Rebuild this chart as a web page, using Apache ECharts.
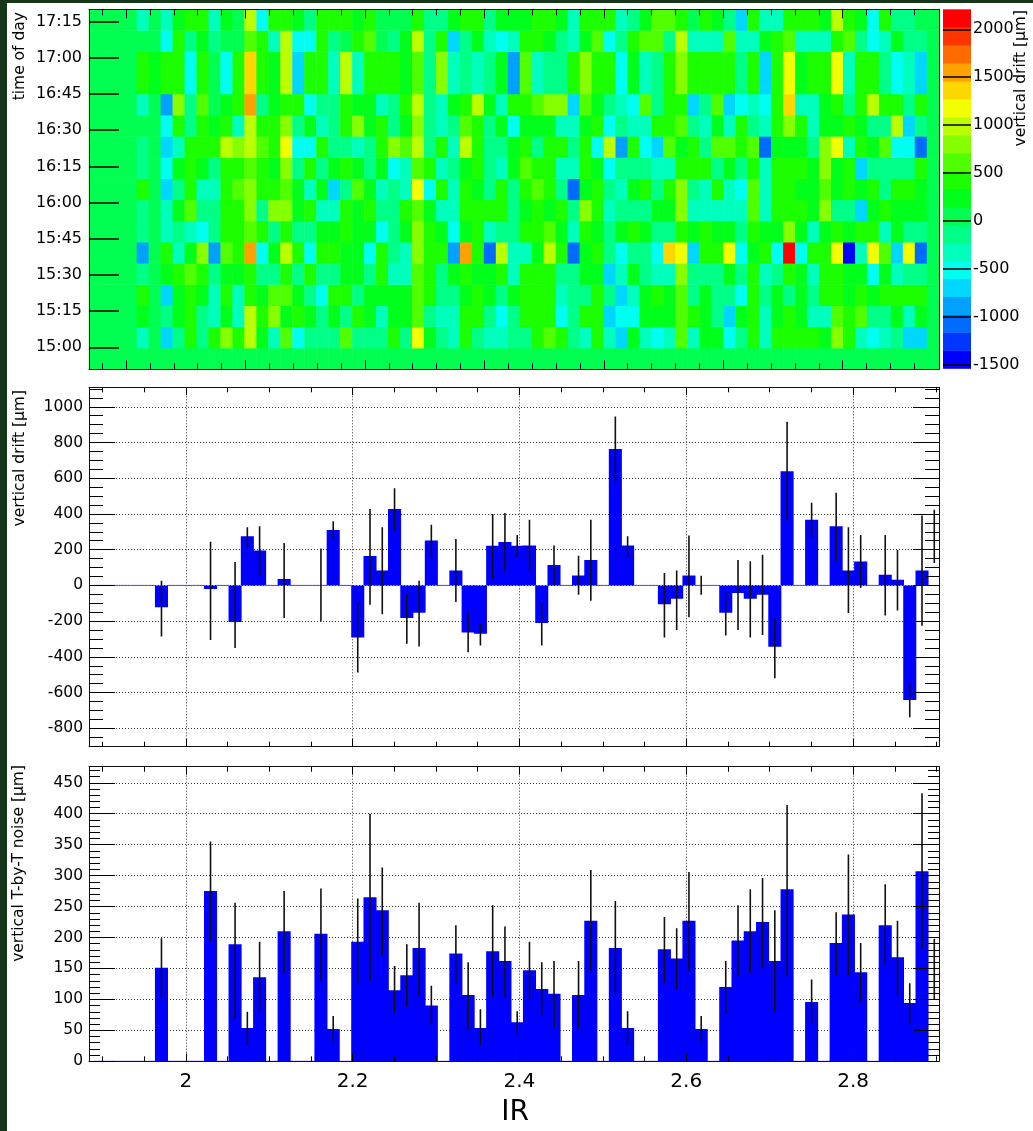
<!DOCTYPE html>
<html>
<head>
<meta charset="utf-8">
<title>vertical drift vs IR</title>
<script src="https://cdn.jsdelivr.net/npm/echarts@6/dist/echarts.min.js"></script>
<style>
  html, body { margin: 0; padding: 0; background: #fff; }
  #chart { width: 1033px; height: 1131px; }
</style>
</head>
<body>
<div id="chart"></div>
<script>
// ---- heatmap: vertical drift [um] per time row (top row first) and BPM column ----
const MAP_COLS = 71   // columns on the x axis of the map
const MAP_ROWS = 17   // time rows, the lowest one is empty
const MAP_COL0 = 4    // first filled column
const driftMap = [
  [-320,50,-320,240,430,430,-320,240,50,990,-500,430,430,240,-130,430,430,430,240,430,50,50, 50,430,-130,-130,240,430,430,-130,240,240,240,430,430,240,-320,430,430,430,-320,-130,240,620, 620,430,50,430,240,-130,-690,430,-320,-320,430,430,430,240,990,430,240,-500,430,-130,-130,50],
  [50,50,-500,430,-130,240,-130,50,50,620,430,-320,990,-500,-500,430,-130,50,430,620,50,-130, 240,990,-130,430,-690,-130,240,-320,-500,-320,430,430,240,-130,-320,240,620,-500,-130,430,620,620, -130,990,-320,-320,-320,620,-320,-320,240,430,620,-320,-320,-320,430,620,-130,-500,-320,240,-130,-130],
  [430,240,430,430,-500,430,50,-500,430,1370,430,240,990,-690,430,430,-320,990,-320,430,430,430, 240,620,-130,810,-320,-130,-320,-130,240,-880,620,-320,-130,-130,430,810,430,430,-500,240,-320,-130, 430,810,430,430,430,430,-130,430,-690,430,1180,240,430,430,1180,-320,430,430,-130,-500,-320,-690],
  [430,240,430,430,-500,430,50,-500,430,1370,430,240,990,-690,430,430,-320,990,-320,430,430,430, 240,620,-130,810,-320,-130,-320,-130,240,-880,620,-320,-130,-130,430,810,430,430,-500,240,-320,-130, 430,810,430,430,430,430,-130,430,-690,430,1180,240,430,430,1180,-320,430,430,-130,-500,-320,-690],
  [-320,50,-880,810,-130,620,50,240,430,1560,-130,240,430,430,-500,-130,-130,430,240,240,-320,-130, 430,990,-130,-320,240,430,990,240,-320,430,430,620,810,810,-690,620,240,-130,-320,-500,620,-130, 430,430,-690,-130,620,-690,-500,-320,-500,430,1370,-320,-320,240,430,-130,430,990,430,430,-130,430],
  [50,50,-500,430,-130,430,240,430,-320,990,430,430,810,-130,240,-320,-130,430,810,240,430,-130, 240,810,-130,-320,-130,620,430,-130,240,-500,240,240,240,-320,-320,240,430,-500,-130,-320,-320,430, 430,620,-130,-320,240,-320,430,-130,-320,430,810,430,-320,240,240,430,240,-130,-130,990,-690,-130],
  [-130,50,-690,-320,430,430,430,990,810,990,620,430,1180,-500,-500,430,-130,-130,-320,-130,430,810, 620,990,-130,430,-320,990,430,-130,-130,240,430,-130,430,430,-130,430,-500,990,-880,430,-500,-690, 620,240,430,-130,620,620,430,620,-1070,240,240,240,-130,810,1180,-320,430,240,620,-500,-500,-1070],
  [-130,50,-500,240,430,240,-130,430,430,620,430,240,810,-130,430,-130,240,430,240,-130,240,-500, -320,620,430,-320,-130,240,430,-130,-320,240,620,430,430,-320,-320,430,240,-500,-130,-130,-130,-320, -320,430,430,430,-130,240,-130,430,-320,430,430,430,240,810,240,430,-690,-130,-130,-130,-130,430],
  [430,50,-690,-130,430,-320,-320,430,620,810,430,430,620,240,-320,240,-690,-130,620,240,-320,-130, -320,1180,-500,430,-320,430,240,-130,430,-130,430,620,430,-130,-1070,240,430,-130,-320,240,430,-130, 430,810,-130,-320,430,-320,-500,620,-320,430,430,240,240,620,240,430,240,430,-130,430,430,240],
  [-130,50,-320,240,620,-130,-130,430,430,810,-130,810,810,240,430,-320,-320,430,240,430,-130,-130, 430,620,240,-320,-320,430,430,430,430,-130,240,430,240,430,-130,810,430,-320,-130,-130,-130,240, 240,810,-320,-320,-320,-320,-320,620,-320,430,430,430,240,810,-130,-130,-690,240,430,240,240,240],
  [-130,50,-320,-130,-320,-500,-130,430,430,620,430,-130,430,-130,-130,240,240,430,240,240,-500,-130, 240,810,430,240,-500,240,430,-320,-130,-130,430,430,620,240,-320,430,240,-130,240,430,240,-130, -130,430,240,430,240,240,-130,430,240,240,810,240,-320,240,430,240,430,430,-320,240,-130,-130],
  [-880,50,430,-320,240,810,-880,620,430,1560,-500,240,990,430,-500,430,430,240,240,-500,430,-130, -320,810,430,430,-880,1560,430,-1070,990,-320,-320,240,990,430,-1070,240,430,-130,-500,-130,-130,-500, 1370,1180,-690,430,430,1180,-500,240,430,-500,2200,-500,430,430,1180,-1530,-320,1180,620,-690,1180,-1070],
  [-130,50,240,430,620,430,-130,240,240,430,-130,-130,430,-130,430,-130,-130,240,240,-130,430,-320, -320,620,430,-130,240,430,240,240,430,-320,430,430,430,-130,-130,240,240,-690,-320,240,-130,-320, -320,810,-130,-130,-130,240,-130,430,-320,-130,430,240,-320,430,430,240,240,-500,240,-320,-130,-130],
  [430,50,-690,240,430,240,-320,430,-320,430,240,620,620,240,-130,-500,430,430,-130,240,240,240, 240,620,430,-130,-130,240,430,240,-130,240,430,430,430,-320,-130,-130,430,-130,-690,-320,240,430, 240,620,-130,240,-130,-130,-500,430,-130,240,-130,240,-130,430,430,240,430,240,430,430,430,430],
  [240,50,-130,240,430,-130,-320,240,-320,990,430,810,240,430,240,-130,240,-130,430,240,-320,240, 240,620,-130,-320,-320,430,430,-130,-500,-130,430,430,430,-500,-130,430,430,-690,-500,-500,240,240, 240,620,430,240,-130,-690,240,430,-320,240,430,240,-320,-320,620,430,620,-130,-130,240,-320,240],
  [-320,50,-690,-130,430,-130,430,810,430,990,240,-320,620,-500,-130,-130,-130,620,-130,-130,-130,430, -130,1180,240,-130,-320,430,-130,-320,-320,-130,-130,430,620,430,-130,-320,430,-320,-690,240,-320,-500, -320,620,-320,240,240,-500,-130,430,-320,430,430,430,430,240,810,430,-320,-500,-320,-130,-690,-690]
]
const timeLabels = ['15:00', '15:15', '15:30', '15:45', '16:00', '16:15', '16:30', '16:45', '17:00', '17:15']

// colour scale: 20 contour levels
const Z_MIN = -1534, Z_MAX = 2208, N_LEVELS = 20
const palette = ['#0000ff', '#0035ff', '#006bff', '#00a1ff', '#00d7ff', '#00fff1', '#00ffbc', '#00ff86', '#00ff50', '#00ff1b',
  '#1bff00', '#50ff00', '#86ff00', '#bcff00', '#f1ff00', '#ffd700', '#ffa100', '#ff6b00', '#ff3500', '#ff0000']
const cbLabels = [-1500, -1000, -500, 0, 500, 1000, 1500, 2000]

// ---- histograms in IR: 69 bins of width 1/68 starting at 1.89 ----
const IR_LO = 1.89, IR_BIN = 1 / 68
const irLabels = [2, 2.2, 2.4, 2.6, 2.8]
const driftVal = [0, 0, 0, 0, 0, -123, 0, 0, 0, -20,
  0, -205, 275, 195, 0, 36, 0, 0, 0, 310,
  0, -291, 165, 84, 428, -183, -153, 252, 0, 84,
  -263, -271, 222, 243, 222, 224, -211, 114, 0, 56,
  142, 0, 764, 224, 0, 0, -105, -75, 56, 0,
  0, -153, -43, -75, -52, -344, 639, 0, 368, 0,
  331, 84, 134, 0, 60, 32, -641, 84, null]
// [bin, low end, high end]
const driftErr = [[5, -286, 26], [9, -305, 245], [11, -351, 131], [12, 209, 325], [13, 50, 331], [15, -183, 237],
  [18, -202, 206], [19, 256, 359], [21, -488, -95], [22, -108, 428], [23, -161, 325], [24, 307, 544],
  [25, -327, -47], [26, -342, 26], [27, 153, 340], [29, -93, 260], [30, -374, -155], [31, -336, -216],
  [32, 36, 400], [33, 79, 405], [34, 153, 282], [35, 73, 368], [36, -336, -99], [37, 0, 224],
  [39, -52, 166], [40, -86, 368], [42, 576, 946], [43, 159, 275], [46, -292, 69], [47, -249, 84],
  [48, -178, 280], [49, -52, 54], [51, -280, -39], [52, -249, 142], [53, -292, 135], [54, -278, 172],
  [55, -520, -185], [56, 364, 916], [58, 269, 463], [60, 138, 519], [61, -155, 325], [62, -15, 282],
  [64, -168, 282], [65, -140, 198], [66, -738, -552], [67, -226, 391], [68, 125, 424]]
const noiseVal = [0, 0, 0, 0, 0, 151, 0, 0, 0, 275,
  0, 189, 54, 136, 0, 210, 0, 0, 206, 52,
  0, 193, 265, 244, 115, 139, 183, 90, 0, 174,
  107, 54, 178, 162, 63, 147, 117, 109, 0, 107,
  227, 0, 183, 54, 0, 0, 181, 166, 227, 52,
  0, 120, 195, 210, 225, 162, 278, 0, 96, 0,
  191, 237, 144, 0, 220, 168, 94, 307, null]
const noiseErr = [[5, 101, 199], [9, 194, 355], [11, 69, 256], [12, 26, 80], [13, 80, 193], [15, 141, 275],
  [18, 130, 279], [19, 30, 73], [21, 124, 263], [22, 130, 400], [23, 170, 313], [24, 78, 154],
  [25, 88, 189], [26, 106, 256], [27, 57, 122], [29, 126, 220], [30, 51, 160], [31, 26, 84],
  [32, 104, 252], [33, 104, 218], [34, 43, 81], [35, 100, 193], [36, 74, 160], [37, 54, 162],
  [39, 53, 162], [40, 146, 309], [42, 108, 259], [43, 26, 81], [46, 127, 233], [47, 116, 215],
  [48, 146, 306], [49, 30, 73], [51, 77, 162], [52, 137, 252], [53, 143, 278], [54, 152, 296],
  [55, 80, 244], [56, 137, 414], [58, 61, 132], [60, 139, 241], [61, 139, 334], [62, 97, 191],
  [64, 156, 286], [65, 105, 227], [66, 59, 126], [67, 181, 433], [68, 99, 198]]

// ---- layout / style ----
const FONT = 'DejaVu Sans'
const IR_MIN = 1.884, IR_MAX = 2.903
const T_MIN = 890.9, T_MAX = 1040.1
const GRID_LINE = { color: '#333', width: 1, type: [1, 2] }

function steps (a, b, s) {
  const out = []
  for (let v = a; v <= b + 1e-9; v += s) out.push(+v.toFixed(6))
  return out
}
const toMin = t => +t.slice(0, 2) * 60 + +t.slice(3)
const fmtTime = v => Math.floor(v / 60) + ':' + String(Math.round(v % 60)).padStart(2, '0')
const fmtNum = v => String(v)   // no thousands separator, as in the original

const xAxes = [], yAxes = []
const addX = o => xAxes.push(o) - 1
const addY = o => yAxes.push(o) - 1

// axis that only carries ticks (and optionally the frame line), drawn above the data
function tickAxis (gridIndex, position, min, max, values, len, line) {
  return {
    type: 'value', gridIndex, position, min, max, z: 10,
    axisLine: { show: line, onZero: false, lineStyle: { color: '#111', width: 1 } },
    axisTick: { show: values.length > 0, inside: true, length: len, customValues: values, lineStyle: { color: '#000', width: 1 } },
    axisLabel: { show: false },
    splitLine: { show: false }
  }
}
// axis that carries labels and dotted grid lines, below the data
function gridAxis (gridIndex, position, min, max, values, label) {
  return {
    type: 'value', gridIndex, position, min, max, z: 1,
    axisLine: { show: false, onZero: false },
    axisTick: { show: false, customValues: values },
    axisLabel: label ? Object.assign({ customValues: values, formatter: fmtNum, color: '#000', fontFamily: FONT }, label) : { show: false },
    splitLine: { show: true, lineStyle: GRID_LINE }
  }
}

function panelAxes (gridIndex, yMin, yMax, yMajor, yMinor, minorLen, showX) {
  const irMinor = steps(1.9, 2.9, 0.05)
  const xi = addX(gridAxis(gridIndex, 'bottom', IR_MIN, IR_MAX, irLabels, showX ? { fontSize: 20, margin: 10 } : null))
  addX(tickAxis(gridIndex, 'bottom', IR_MIN, IR_MAX, irLabels, 8, true))
  addX(tickAxis(gridIndex, 'bottom', IR_MIN, IR_MAX, irMinor, 5, false))
  addX(tickAxis(gridIndex, 'top', IR_MIN, IR_MAX, irLabels, 8, true))
  addX(tickAxis(gridIndex, 'top', IR_MIN, IR_MAX, irMinor, 5, false))
  const yi = addY(gridAxis(gridIndex, 'left', yMin, yMax, yMajor, { fontSize: 15.5, margin: 6 }))
  addY(tickAxis(gridIndex, 'left', yMin, yMax, yMajor, 26, true))
  addY(tickAxis(gridIndex, 'left', yMin, yMax, yMinor, minorLen, false))
  addY(tickAxis(gridIndex, 'right', yMin, yMax, yMajor, 26, true))
  addY(tickAxis(gridIndex, 'right', yMin, yMax, yMinor, minorLen, false))
  return [xi, yi]
}

function histSeries (axes, vals) {
  return {
    type: 'custom', xAxisIndex: axes[0], yAxisIndex: axes[1], clip: true, z: 3, silent: true,
    data: vals.map((v, k) => [IR_LO + k * IR_BIN, IR_LO + (k + 1) * IR_BIN, v]).filter(d => d[2] !== null),
    renderItem (params, api) {
      const v = api.value(2)
      const a = api.coord([api.value(0), 0])
      const b = api.coord([api.value(1), v])
      if (v === 0) {
        return { type: 'line', shape: { x1: a[0], y1: a[1], x2: b[0], y2: a[1] }, style: { stroke: '#4a4aff', lineWidth: 1 } }
      }
      // a little overlap so neighbouring bins join without seams
      return {
        type: 'rect',
        shape: { x: a[0] - 0.4, y: Math.min(a[1], b[1]), width: b[0] - a[0] + 0.8, height: Math.abs(b[1] - a[1]) },
        style: { fill: '#0000ff' }
      }
    }
  }
}
function errSeries (axes, errs) {
  return {
    type: 'custom', xAxisIndex: axes[0], yAxisIndex: axes[1], clip: true, z: 4, silent: true,
    data: errs.map(e => [IR_LO + (e[0] + 0.5) * IR_BIN, e[1], e[2]]),
    renderItem (params, api) {
      const p = api.coord([api.value(0), api.value(1)])
      const q = api.coord([api.value(0), api.value(2)])
      return { type: 'line', shape: { x1: p[0], y1: p[1], x2: q[0], y2: q[1] }, style: { stroke: '#111', lineWidth: 1.6 } }
    }
  }
}

// ---- heatmap axes (grid 0) ----
const hx = addX({ type: 'category', gridIndex: 0, show: false, data: steps(0, MAP_COLS - 1, 1) })
const hy = addY({ type: 'category', gridIndex: 0, show: false, data: steps(0, MAP_ROWS - 1, 1) })
const binMajor = steps(0, 60, 10), binMinor = steps(-2, 66, 2)
addX(tickAxis(0, 'bottom', -3.1, 68.06, binMajor, 9, true))
addX(tickAxis(0, 'bottom', -3.1, 68.06, binMinor, 6, false))
addX(tickAxis(0, 'top', -3.1, 68.06, binMajor, 9, true))
addX(tickAxis(0, 'top', -3.1, 68.06, binMinor, 6, false))
const timeVals = timeLabels.map(toMin)
addY({
  type: 'value', gridIndex: 0, position: 'left', min: T_MIN, max: T_MAX, z: 10,
  axisLine: { show: true, onZero: false, lineStyle: { color: '#111', width: 1 } },
  axisTick: { inside: true, length: 30, customValues: timeVals, lineStyle: { color: '#000', width: 1.5 } },
  axisLabel: { customValues: timeVals, formatter: fmtTime, fontSize: 16, margin: 7, color: '#000', fontFamily: FONT },
  splitLine: { show: false }
})
addY(tickAxis(0, 'right', 0, 1, [], 0, true))

// ---- colour bar (grid 3) ----
const cbx = addX({ type: 'value', gridIndex: 3, min: 0, max: 1, show: false })
const cby = addY({
  type: 'value', gridIndex: 3, position: 'right', min: Z_MIN, max: Z_MAX, z: 10,
  axisLine: { show: false, onZero: false },
  axisTick: { inside: true, length: 28, customValues: cbLabels, lineStyle: { color: '#000', width: 1.5 } },
  axisLabel: { customValues: cbLabels, formatter: fmtNum, fontSize: 16, margin: 2, color: '#000', fontFamily: FONT },
  splitLine: { show: false }
})

const midAxes = panelAxes(1, -903, 1109, steps(-800, 1000, 200), steps(-900, 1100, 50), 14, false)
const botAxes = panelAxes(2, 0, 476, steps(0, 450, 50), steps(0, 470, 10), 11, true)

// heatmap cells
const heatData = []
for (let y = 0; y < MAP_ROWS; y++) {
  const row = driftMap[MAP_ROWS - 1 - y]
  for (let x = 0; x < MAP_COLS; x++) {
    const k = x - MAP_COL0
    heatData.push([x, y, row && k >= 0 && k < row.length ? row[k] : 0])
  }
}
const zStep = (Z_MAX - Z_MIN) / N_LEVELS
const pieces = palette.map((c, i) => {
  const p = { color: c }
  if (i > 0) p.gte = Z_MIN + i * zStep
  if (i < N_LEVELS - 1) p.lt = Z_MIN + (i + 1) * zStep
  return p
})

function vText (text, x, y, size) {
  return {
    type: 'text', x, y, rotation: Math.PI / 2, z: 20,
    style: { text, fill: '#000', font: size + 'px "' + FONT + '"', align: 'right', textAlign: 'right', verticalAlign: 'middle', textVerticalAlign: 'middle' }
  }
}

const chart = echarts.init(document.getElementById('chart'))
chart.setOption({
  animation: false,
  backgroundColor: '#fff',
  textStyle: { fontFamily: FONT },
  grid: [
    { left: 89, top: 9.3, width: 850, height: 360 },
    { left: 89, top: 387.3, width: 850, height: 359.4 },
    { left: 89, top: 766.7, width: 850, height: 294.6 },
    { left: 943, top: 9.3, width: 28, height: 359 }
  ],
  xAxis: xAxes,
  yAxis: yAxes,
  visualMap: { type: 'piecewise', show: false, seriesIndex: 0, dimension: 2, pieces },
  series: [
    { type: 'heatmap', xAxisIndex: hx, yAxisIndex: hy, data: heatData, silent: true, emphasis: { disabled: true } },
    {
      type: 'custom', xAxisIndex: cbx, yAxisIndex: cby, silent: true,
      data: palette.map((c, i) => [Z_MIN + i * zStep, Z_MIN + (i + 1) * zStep]),
      renderItem (params, api) {
        const a = api.coord([0, api.value(0)])
        const b = api.coord([1, api.value(1)])
        return { type: 'rect', shape: { x: a[0], y: b[1], width: b[0] - a[0], height: a[1] - b[1] + 0.5 }, style: { fill: palette[params.dataIndex] } }
      }
    },
    histSeries(midAxes, driftVal),
    errSeries(midAxes, driftErr),
    histSeries(botAxes, noiseVal),
    errSeries(botAxes, noiseErr)
  ],
  graphic: [
    { type: 'rect', shape: { x: 0, y: 0, width: 7, height: 1131 }, style: { fill: '#16361a' }, z: 30 },
    { type: 'rect', shape: { x: 0, y: 0, width: 1033, height: 3 }, style: { fill: '#16361a' }, z: 30 },
    vText('time of day', 20, 12, 15.5),
    vText('vertical drift [\u00b5m]', 20, 390, 15.5),
    vText('vertical T-by-T noise [\u00b5m]', 19, 765, 15.5),
    vText('vertical drift [\u00b5m]', 1021, 10, 15.5),
    {
      type: 'text', x: 515, y: 1113, z: 20,
      style: { text: 'IR', fill: '#000', font: '28px "' + FONT + '"', align: 'center', textAlign: 'center', verticalAlign: 'middle', textVerticalAlign: 'middle' }
    }
  ]
})
</script>
</body>
</html>
